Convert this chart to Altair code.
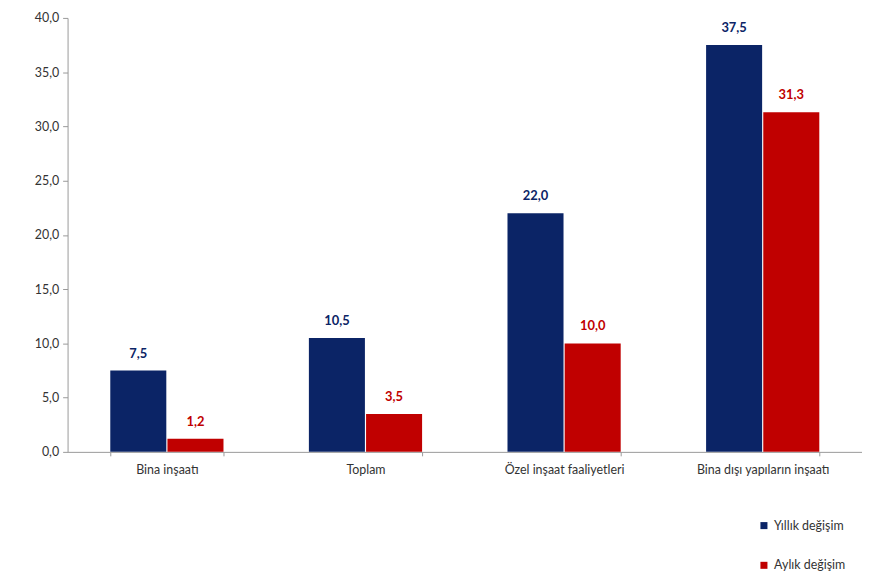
import altair as alt
import pandas as pd

categories = ["Bina inşaatı", "Toplam", "Özel inşaat faaliyetleri", "Bina dışı yapıların inşaatı"]
series = ["Yıllık değişim", "Aylık değişim"]
yillik = [7.5, 10.5, 22.0, 37.5]
aylik = [1.2, 3.5, 10.0, 31.3]
colors = ["#0B2466", "#C00000"]

rows = []
for c, a, b in zip(categories, yillik, aylik):
    rows.append({"cat": c, "series": series[0], "value": a})
    rows.append({"cat": c, "series": series[1], "value": b})
df = pd.DataFrame(rows)

FONT = "Lato"

base = alt.Chart(df).encode(
    x=alt.X("cat:N", sort=categories, title=None,
            scale=alt.Scale(paddingInner=0.43, paddingOuter=0.215),
            axis=alt.Axis(labelAngle=0, labelFont=FONT, labelFontSize=12.5, labelColor="#333333",
                          domainColor="#999999", tickColor="#999999", tickBand="extent",
                          tickSize=4, labelPadding=8, grid=False)),
    xOffset=alt.XOffset("series:N", sort=series, scale=alt.Scale(paddingInner=0.02)),
)

bars = base.mark_bar().encode(
    y=alt.Y("value:Q", title=None,
            scale=alt.Scale(domain=[0, 40]),
            axis=alt.Axis(values=[0, 5, 10, 15, 20, 25, 30, 35, 40],
                          labelExpr="replace(format(datum.value, '.1f'), '.', ',')",
                          labelFont=FONT, labelFontSize=12.5, labelColor="#333333",
                          domainColor="#999999", tickColor="#999999", tickSize=5,
                          grid=False, labelPadding=4)),
    color=alt.Color("series:N", sort=series, title=None,
                    scale=alt.Scale(domain=series, range=colors),
                    legend=alt.Legend(orient="none", legendX=695, legendY=505,
                                      symbolType="square", symbolSize=50,
                                      labelFont=FONT, labelFontSize=12.5, labelColor="#333333",
                                      rowPadding=27, symbolStrokeWidth=0)),
)

texts = base.transform_calculate(
    lbl="replace(format(datum.value, '.1f'), '.', ',')"
).mark_text(dy=-17, fontWeight="bold", font=FONT, fontSize=13).encode(
    y=alt.Y("value:Q"),
    text=alt.Text("lbl:N"),
    color=alt.Color("series:N", sort=series, scale=alt.Scale(domain=series, range=colors), legend=None),
)

chart = alt.layer(bars, texts).properties(
    width=800, height=437,
    autosize=alt.AutoSizeParams(type="none"),
    padding={"left": 60, "top": 8, "right": 0, "bottom": 120},
).configure_view(strokeWidth=0, stroke="transparent").configure_axis(grid=False)

chart.save("out.html", embed_options={"renderer": "svg", "actions": False})
